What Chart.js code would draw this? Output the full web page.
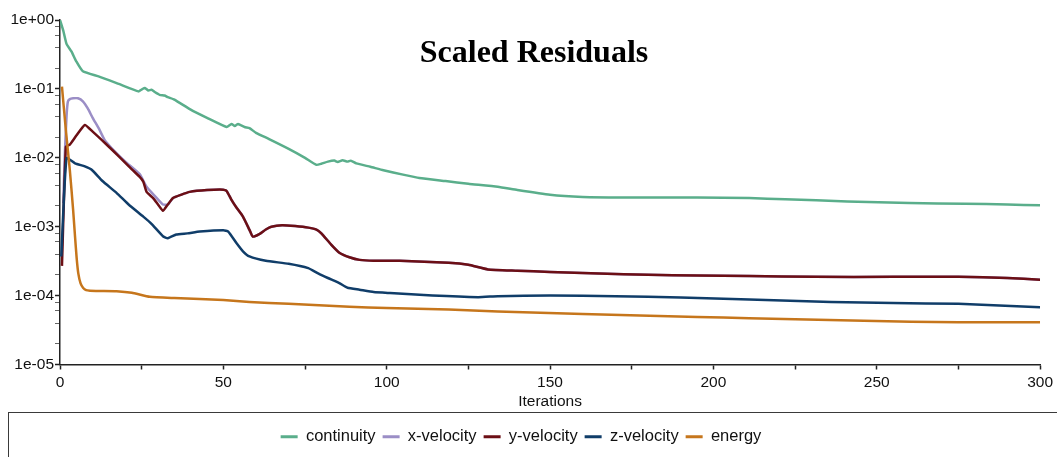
<!DOCTYPE html>
<html>
<head>
<meta charset="utf-8">
<script src="https://cdn.jsdelivr.net/npm/chart.js@4.4.1/dist/chart.umd.min.js"></script>
<style>
  html, body { margin: 0; padding: 0; background: #fff; overflow: hidden; }
  #wrap { position: relative; width: 1057px; height: 457px; overflow: hidden; background: #fff; }
  #legendBox { position: absolute; left: 8px; top: 412px; width: 1200px; height: 200px;
    border: 1.5px solid #3a3a3a; box-sizing: border-box; }
  canvas { position: absolute; left: 0; top: 0; }
</style>
</head>
<body>
<div id="wrap">
  <div id="legendBox"></div>
  <canvas id="c" width="1057" height="457"></canvas>
</div>
<script>
// ---------------- data ----------------
const chartTitle = 'Scaled Residuals';
const xAxisTitle = 'Iterations';
const seriesNames = ['continuity', 'x-velocity', 'y-velocity', 'z-velocity', 'energy'];

const continuityIter = [0, 1, 2, 3.5, 5, 7, 12, 18, 24, 25, 26, 27, 28, 29, 30.5, 32, 33, 35, 40, 45, 51, 52.5, 53.5, 54.5, 56.5, 58, 60, 64, 70, 75, 78.5, 80, 82, 84, 85, 86.5, 88, 89, 90.7, 95, 99, 105, 110, 118, 125, 134, 140, 150, 160, 170, 180, 195, 211, 222, 241, 260, 277, 290, 300];
const continuityVal  = [1.0, 0.7, 0.45, 0.35, 0.25, 0.18, 0.151, 0.118, 0.092, 0.098, 0.103, 0.095, 0.097, 0.09, 0.082, 0.08, 0.076, 0.07, 0.05, 0.038, 0.028, 0.031, 0.029, 0.031, 0.028, 0.027, 0.023, 0.0187, 0.0135, 0.01, 0.0079, 0.0082, 0.0088, 0.0091, 0.0087, 0.0092, 0.0088, 0.0091, 0.0083, 0.0074, 0.0066, 0.0057, 0.0051, 0.0046, 0.0042, 0.0038, 0.0034, 0.0029, 0.0027, 0.00266, 0.00265, 0.00266, 0.0026, 0.0025, 0.00233, 0.0022, 0.00216, 0.0021, 0.00204];

const xVelIter = [1, 1.5, 2, 2.4, 3, 4, 5.5, 7, 8.5, 10, 12, 13.7, 16, 20, 24.4, 26.5, 29, 31.5, 33, 34.6, 37, 39.7, 45, 50, 51, 52.4, 54, 56, 58, 59, 61, 63, 64.7, 68, 72, 76, 78.5, 80, 83, 85.5, 88.6, 91.7, 96, 104, 119, 125, 131, 140, 150, 165, 180, 195, 211, 231, 255, 275, 290, 300];
const xVelVal  = [0.0022, 0.012, 0.04, 0.065, 0.071, 0.073, 0.073, 0.066, 0.052, 0.038, 0.026, 0.018, 0.0135, 0.0088, 0.0058, 0.0038, 0.0028, 0.0021, 0.0021, 0.0026, 0.0029, 0.0032, 0.0034, 0.00345, 0.0033, 0.0025, 0.0019, 0.0014, 0.0009, 0.00072, 0.00078, 0.00091, 0.001, 0.00105, 0.00102, 0.00097, 0.00091, 0.0008, 0.00055, 0.00042, 0.00036, 0.00033, 0.00032, 0.00032, 0.0003, 0.00028, 0.00024, 0.00023, 0.00022, 0.00021, 0.0002, 0.000196, 0.000192, 0.000187, 0.000187, 0.000187, 0.00018, 0.00017];

const yVelIter = [0.6, 1.8, 3, 5, 7.6, 10, 14, 18, 22, 24.4, 25.5, 26.5, 28.5, 30, 31.5, 33, 34.6, 37, 39.7, 45, 50, 51, 52.4, 54, 56, 58, 59, 61, 63, 64.7, 68, 72, 76, 78.5, 80, 83, 85.5, 88.6, 91.7, 96, 104, 119, 125, 131, 140, 150, 165, 180, 195, 211, 231, 255, 275, 290, 300];
const yVelVal  = [0.00027, 0.0145, 0.0155, 0.021, 0.030, 0.024, 0.016, 0.0105, 0.0068, 0.0053, 0.0045, 0.0032, 0.0026, 0.0021, 0.0017, 0.0021, 0.0026, 0.0029, 0.0032, 0.0034, 0.00345, 0.0033, 0.0025, 0.0019, 0.0014, 0.0009, 0.00072, 0.00078, 0.00091, 0.001, 0.00105, 0.00102, 0.00097, 0.00091, 0.0008, 0.00055, 0.00042, 0.00036, 0.00033, 0.00032, 0.00032, 0.0003, 0.00028, 0.00024, 0.00023, 0.00022, 0.00021, 0.0002, 0.000196, 0.000192, 0.000187, 0.000187, 0.000187, 0.00018, 0.00017];

const zVelIter = [0.4, 2, 4.6, 7.6, 9.7, 13, 17.3, 21, 25.5, 28, 31.6, 33, 35.6, 39, 42.8, 50, 51.5, 54, 56, 58, 63, 70, 76, 79, 82, 85.5, 88, 91.7, 96, 101, 114, 128, 134, 150, 170, 190, 211, 236, 255, 275, 300];
const zVelVal  = [0.00037, 0.0099, 0.0083, 0.0075, 0.0067, 0.0046, 0.0031, 0.0021, 0.0014, 0.0011, 0.00072, 0.00068, 0.00077, 0.0008, 0.00085, 0.00089, 0.00085, 0.00058, 0.00044, 0.00037, 0.00032, 0.00029, 0.00025, 0.00021, 0.00018, 0.000152, 0.00013, 0.000122, 0.000113, 0.000109, 0.0001, 0.000095, 0.000098, 0.0001, 0.000098, 0.000094, 0.000088, 0.000081, 0.000078, 0.000076, 0.000068];

const energyIter = [0.6, 1.8, 3, 4, 4.6, 5.1, 5.6, 6.3, 7.1, 8, 9.2, 12, 17.3, 22, 27.5, 35, 42.8, 50, 58, 70, 88.6, 100, 119, 134, 160, 195, 211, 246, 275, 300];
const energyVal  = [0.108, 0.025, 0.0067, 0.0018, 0.00072, 0.00035, 0.00021, 0.00015, 0.000129, 0.00012, 0.000118, 0.000117, 0.000116, 0.00011, 0.000096, 0.000092, 0.000089, 0.000086, 0.000081, 0.000076, 0.000069, 0.000066, 0.000063, 0.000059, 0.000054, 0.000049, 0.000047, 0.000043, 0.000041, 0.000041];

const yTickValues = [1e-5, 1e-4, 1e-3, 1e-2, 1e-1, 1];
const yTickLabels = ['1e-05', '1e-04', '1e-03', '1e-02', '1e-01', '1e+00'];
const yMinorFactors = [2, 4, 6, 8];
const xTickValues = [0, 50, 100, 150, 200, 250, 300];
const xTickLabels = ['0', '50', '100', '150', '200', '250', '300'];
const xMinorValues = [25, 75, 125, 175, 225, 275];

// ---------------- styling ----------------
const colors = ['#5aae8b', '#9b8ec6', '#6c0f15', '#103d69', '#c6761c'];
const drawOrder = [0, 3, 2, 1, 0];

const pairs = (xs, ys) => xs.map((x, i) => ({ x: x, y: ys[i] }));
const seriesData = [
  pairs(continuityIter, continuityVal),
  pairs(xVelIter, xVelVal),
  pairs(yVelIter, yVelVal),
  pairs(zVelIter, zVelVal),
  pairs(energyIter, energyVal)
];

const datasets = seriesNames.map((name, i) => ({
  label: name,
  data: seriesData[i],
  borderColor: colors[i],
  backgroundColor: colors[i],
  borderWidth: 2.5,
  pointRadius: 0,
  tension: 0.15,
  order: drawOrder[i]
}));

const FONT = "'Liberation Sans', Arial, Helvetica, sans-serif";
const isMajorY = v => yTickValues.some(t => Math.abs(Math.log10(v) - Math.log10(t)) < 1e-6);

const titlePlugin = {
  id: 'insideTitle',
  afterDraw(chart) {
    const ctx = chart.ctx;
    ctx.save();
    ctx.font = "bold 32px 'Liberation Serif', 'Times New Roman', serif";
    ctx.fillStyle = '#000';
    ctx.textAlign = 'center';
    ctx.textBaseline = 'alphabetic';
    ctx.fillText(chartTitle, 534, 62);
    ctx.restore();
  }
};

new Chart(document.getElementById('c'), {
  type: 'line',
  data: { datasets },
  options: {
    responsive: false,
    animation: false,
    devicePixelRatio: 1,
    layout: { padding: { left: 0, right: 15, top: 20, bottom: 2 } },
    plugins: {
      tooltip: { enabled: false },
      title: { display: false },
      legend: {
        position: 'bottom',
        labels: {
          font: { family: FONT, size: 16.5 },
          color: '#111',
          boxWidth: 17,
          boxHeight: 3,
          padding: 7,
          sort: (a, b) => a.datasetIndex - b.datasetIndex,
          generateLabels: (chart) => Chart.defaults.plugins.legend.labels.generateLabels(chart)
            .map(l => Object.assign(l, { lineWidth: 0, fillStyle: colors[l.datasetIndex] }))
        }
      }
    },
    scales: {
      x: {
        type: 'linear',
        min: 0, max: 300,
        afterBuildTicks: (scale) => {
          scale.ticks = xTickValues.concat(xMinorValues).sort((a, b) => a - b).map(v => ({ value: v }));
        },
        afterFit: (scale) => { scale.height = 57; },
        ticks: {
          autoSkip: false,
          maxRotation: 0,
          padding: 4,
          color: '#111',
          font: { family: FONT, size: 15.5 },
          callback: (v) => { const i = xTickValues.indexOf(v); return i >= 0 ? xTickLabels[i] : ''; }
        },
        grid: { display: true, drawOnChartArea: false, drawTicks: true, tickLength: 5, tickColor: '#222', tickWidth: 1.5 },
        border: { display: true, color: '#222', width: 1.5 },
        title: { display: true, text: xAxisTitle, color: '#111', font: { family: FONT, size: 15.5 }, padding: { top: 0, bottom: 10 } }
      },
      y: {
        type: 'logarithmic',
        min: 1e-5, max: 1,
        afterBuildTicks: (scale) => {
          const t = [];
          yTickValues.forEach((v, i) => {
            t.push({ value: v, major: true });
            if (i < yTickValues.length - 1) yMinorFactors.forEach(f => t.push({ value: v * f, major: false }));
          });
          scale.ticks = t;
        },
        afterFit: (scale) => { scale.width = 60; },
        ticks: {
          autoSkip: false,
          padding: 1,
          color: '#111',
          font: { family: FONT, size: 15.5 },
          callback: (v) => { const i = yTickValues.findIndex(t => Math.abs(Math.log10(v) - Math.log10(t)) < 1e-6); return i >= 0 ? yTickLabels[i] : ''; }
        },
        grid: { display: true, drawOnChartArea: false, drawTicks: true, tickLength: 5,
          tickColor: (c) => (c.tick && isMajorY(c.tick.value)) ? '#222' : '#666',
          tickWidth: (c) => (c.tick && isMajorY(c.tick.value)) ? 1.5 : 1 },
        border: { display: true, color: '#222', width: 1.5 }
      }
    }
  },
  plugins: [titlePlugin]
});
</script>
</body>
</html>
